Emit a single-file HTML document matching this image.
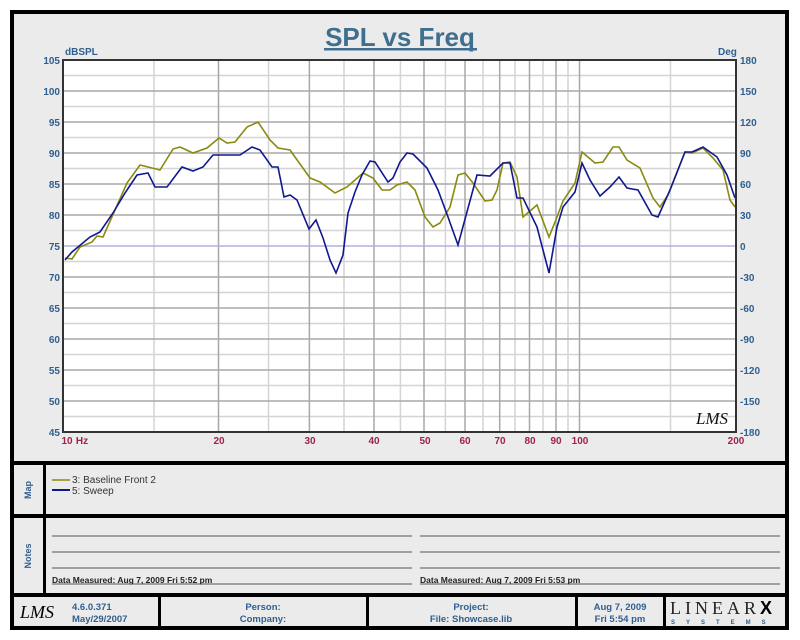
<!DOCTYPE html>
<html><head><meta charset="utf-8"><style>
html,body{margin:0;padding:0;background:#fff;}
svg{display:block;font-family:"Liberation Sans",Arial,sans-serif;}
</style></head><body>
<svg width="800" height="640" viewBox="0 0 800 640" xmlns="http://www.w3.org/2000/svg">
<rect x="12" y="12" width="775" height="616" fill="#ebebeb" stroke="#000" stroke-width="4"/>
<text x="400" y="46" text-anchor="middle" font-size="26" font-weight="bold" fill="#3f6f8f">SPL vs Freq</text>
<rect x="324" y="48" width="153" height="2.5" fill="#3f6f8f"/>
<rect x="63" y="60" width="673" height="372" fill="#fff"/>
<g stroke="#d4d4d4" stroke-width="1.5">
<line x1="63" x2="736" y1="75.5" y2="75.5"/><line x1="63" x2="736" y1="106.5" y2="106.5"/><line x1="63" x2="736" y1="137.5" y2="137.5"/><line x1="63" x2="736" y1="168.5" y2="168.5"/><line x1="63" x2="736" y1="199.5" y2="199.5"/><line x1="63" x2="736" y1="230.5" y2="230.5"/><line x1="63" x2="736" y1="261.5" y2="261.5"/><line x1="63" x2="736" y1="292.5" y2="292.5"/><line x1="63" x2="736" y1="323.5" y2="323.5"/><line x1="63" x2="736" y1="354.5" y2="354.5"/><line x1="63" x2="736" y1="385.5" y2="385.5"/><line x1="63" x2="736" y1="416.5" y2="416.5"/>
<line y1="60" y2="432" x1="154" x2="154"/><line y1="60" y2="432" x1="268.5" x2="268.5"/><line y1="60" y2="432" x1="344" x2="344"/><line y1="60" y2="432" x1="400.4" x2="400.4"/><line y1="60" y2="432" x1="445.4" x2="445.4"/><line y1="60" y2="432" x1="483" x2="483"/><line y1="60" y2="432" x1="515" x2="515"/><line y1="60" y2="432" x1="543" x2="543"/><line y1="60" y2="432" x1="568" x2="568"/><line y1="60" y2="432" x1="670.5" x2="670.5"/>
</g>
<g stroke="#a8a8a8" stroke-width="1.5">
<line x1="63" x2="736" y1="91" y2="91"/><line x1="63" x2="736" y1="122" y2="122"/><line x1="63" x2="736" y1="153" y2="153"/><line x1="63" x2="736" y1="184" y2="184"/><line x1="63" x2="736" y1="215" y2="215"/><line x1="63" x2="736" y1="277" y2="277"/><line x1="63" x2="736" y1="308" y2="308"/><line x1="63" x2="736" y1="339" y2="339"/><line x1="63" x2="736" y1="370" y2="370"/><line x1="63" x2="736" y1="401" y2="401"/>
<line y1="60" y2="432" x1="218.5" x2="218.5"/><line y1="60" y2="432" x1="309.4" x2="309.4"/><line y1="60" y2="432" x1="374" x2="374"/><line y1="60" y2="432" x1="424" x2="424"/><line y1="60" y2="432" x1="465" x2="465"/><line y1="60" y2="432" x1="499.7" x2="499.7"/><line y1="60" y2="432" x1="529.5" x2="529.5"/><line y1="60" y2="432" x1="556" x2="556"/><line y1="60" y2="432" x1="579.5" x2="579.5"/>
</g>
<line x1="63" x2="736" y1="246" y2="246" stroke="#b0b0e0" stroke-width="1.5"/>
<polyline fill="none" stroke="#8a8a10" stroke-width="1.6" points="65,258 72,259 80,247 92,242 97,236 103,237 115,210 127,183 140,165 160,170 173,149 180,147 193,153 207,148 219,138 227,143 235,142 247,127 258,122 270,140 278,148 290,150 310,178 320,182 335,193 347,187 363,173 373,178 382,190 390,190 397,185 407,182 415,190 425,217 433,227 440,223 450,207 458,175 465,173 473,183 485,201 492,200 497,190 503,163 510,162 517,177 523,217 537,205 549,237 557,217 563,201 575,183 582,152 595,163 603,162 613,147 619,147 627,160 640,168 653,198 660,207 668,195 685,152 692,153 703,148 713,158 723,170 730,200 735,207"/>
<polyline fill="none" stroke="#101890" stroke-width="1.6" points="65,260 72,252 78,247 90,237 100,232 113,213 125,193 137,175 148,173 155,187 167,187 182,167 193,171 203,167 213,155 227,155 240,155 252,147 260,150 272,167 278,167 284,197 290,195 297,200 309,229 316,220 323,238 330,260 336,273 343,255 348,213 355,192 362,175 370,161 375,162 388,182 393,178 400,162 407,153 413,154 427,168 438,190 448,217 458,245 477,175 490,176 503,163 510,163 517,198 523,198 537,227 549,273 557,227 563,207 575,192 582,163 590,180 600,196 610,187 619,177 627,188 638,190 652,215 658,217 670,190 685,152 692,152 703,147 717,157 727,175 735,198"/>
<rect x="63" y="60" width="673" height="372" fill="none" stroke="#333" stroke-width="2"/>
<text x="712" y="424" text-anchor="middle" font-size="17" font-style="italic" font-family="Liberation Serif,serif" fill="#111">LMS</text>
<g font-size="10" font-weight="bold" fill="#2f5f8f" text-anchor="end">
<text x="60" y="64">105</text><text x="60" y="95">100</text><text x="60" y="126">95</text><text x="60" y="157">90</text><text x="60" y="188">85</text><text x="60" y="219">80</text><text x="60" y="250">75</text><text x="60" y="281">70</text><text x="60" y="312">65</text><text x="60" y="343">60</text><text x="60" y="374">55</text><text x="60" y="405">50</text><text x="60" y="436">45</text>
</g>
<g font-size="10" font-weight="bold" fill="#2f5f8f">
<text x="65" y="55">dBSPL</text><text x="718" y="55">Deg</text>
<text x="740" y="64">180</text><text x="740" y="95">150</text><text x="740" y="126">120</text><text x="740" y="157">90</text><text x="740" y="188">60</text><text x="740" y="219">30</text><text x="740" y="250">0</text><text x="740" y="281">-30</text><text x="740" y="312">-60</text><text x="740" y="343">-90</text><text x="740" y="374">-120</text><text x="740" y="405">-150</text><text x="740" y="436">-180</text>
</g>
<g font-size="10" font-weight="bold" fill="#a02050" text-anchor="middle">
<text x="67" y="444">10</text><text x="82" y="444">Hz</text><text x="219" y="444">20</text><text x="310" y="444">30</text><text x="374" y="444">40</text><text x="425" y="444">50</text><text x="465" y="444">60</text><text x="500" y="444">70</text><text x="530" y="444">80</text><text x="556" y="444">90</text><text x="580" y="444">100</text><text x="736" y="444">200</text>
</g>
<g fill="#000">
<rect x="12" y="461" width="775" height="4"/>
<rect x="12" y="514" width="775" height="4"/>
<rect x="12" y="593" width="775" height="4"/>
<rect x="43" y="463" width="3" height="132"/>
<rect x="158" y="595" width="3" height="33"/>
<rect x="366" y="595" width="3" height="33"/>
<rect x="575" y="595" width="3" height="33"/>
<rect x="663" y="595" width="3" height="33"/>
</g>
<g font-size="9" font-weight="bold" fill="#2f5f8f" text-anchor="middle">
<text transform="translate(31,490) rotate(-90)">Map</text>
<text transform="translate(31,556) rotate(-90)">Notes</text>
</g>
<line x1="52" x2="70" y1="480" y2="480" stroke="#8a8a10" stroke-width="1.5"/>
<line x1="52" x2="70" y1="490" y2="490" stroke="#101890" stroke-width="2"/>
<g font-size="10" fill="#333"><text x="72" y="483">3: Baseline Front 2</text><text x="72" y="494">5: Sweep</text></g>
<g stroke="#555" stroke-width="1">
<line x1="52" x2="412" y1="536" y2="536"/><line x1="52" x2="412" y1="552" y2="552"/><line x1="52" x2="412" y1="568" y2="568"/><line x1="52" x2="412" y1="584" y2="584"/>
<line x1="420" x2="780" y1="536" y2="536"/><line x1="420" x2="780" y1="552" y2="552"/><line x1="420" x2="780" y1="568" y2="568"/><line x1="420" x2="780" y1="584" y2="584"/>
</g>
<g font-size="8.5" font-weight="bold" fill="#222"><text x="52" y="583">Data Measured: Aug  7, 2009  Fri  5:52 pm</text><text x="420" y="583">Data Measured: Aug  7, 2009  Fri  5:53 pm</text></g>
<text x="37" y="618" text-anchor="middle" font-size="18" font-style="italic" font-family="Liberation Serif,serif" fill="#000">LMS</text>
<g font-size="9.5" font-weight="bold" fill="#2f5f8f">
<text x="72" y="610">4.6.0.371</text><text x="72" y="622">May/29/2007</text>
</g>
<g font-size="9.5" font-weight="bold" fill="#2f5f8f" text-anchor="middle">
<text x="263" y="610">Person:</text><text x="263" y="622">Company:</text>
<text x="471" y="610">Project:</text><text x="471" y="622">File: Showcase.lib</text>
<text x="620" y="610">Aug  7, 2009</text><text x="620" y="622">Fri  5:54 pm</text>
</g>
<text x="670" y="614" font-size="18" font-family="Liberation Serif,serif" fill="#222" letter-spacing="4">LINEAR</text>
<text x="760" y="614" font-size="18" font-weight="bold" font-family="Liberation Sans,sans-serif" fill="#000">X</text>
<text x="671" y="624" font-size="6" font-weight="bold" fill="#2f5f8f" letter-spacing="11">SYSTEMS</text>
</svg>
</body></html>
